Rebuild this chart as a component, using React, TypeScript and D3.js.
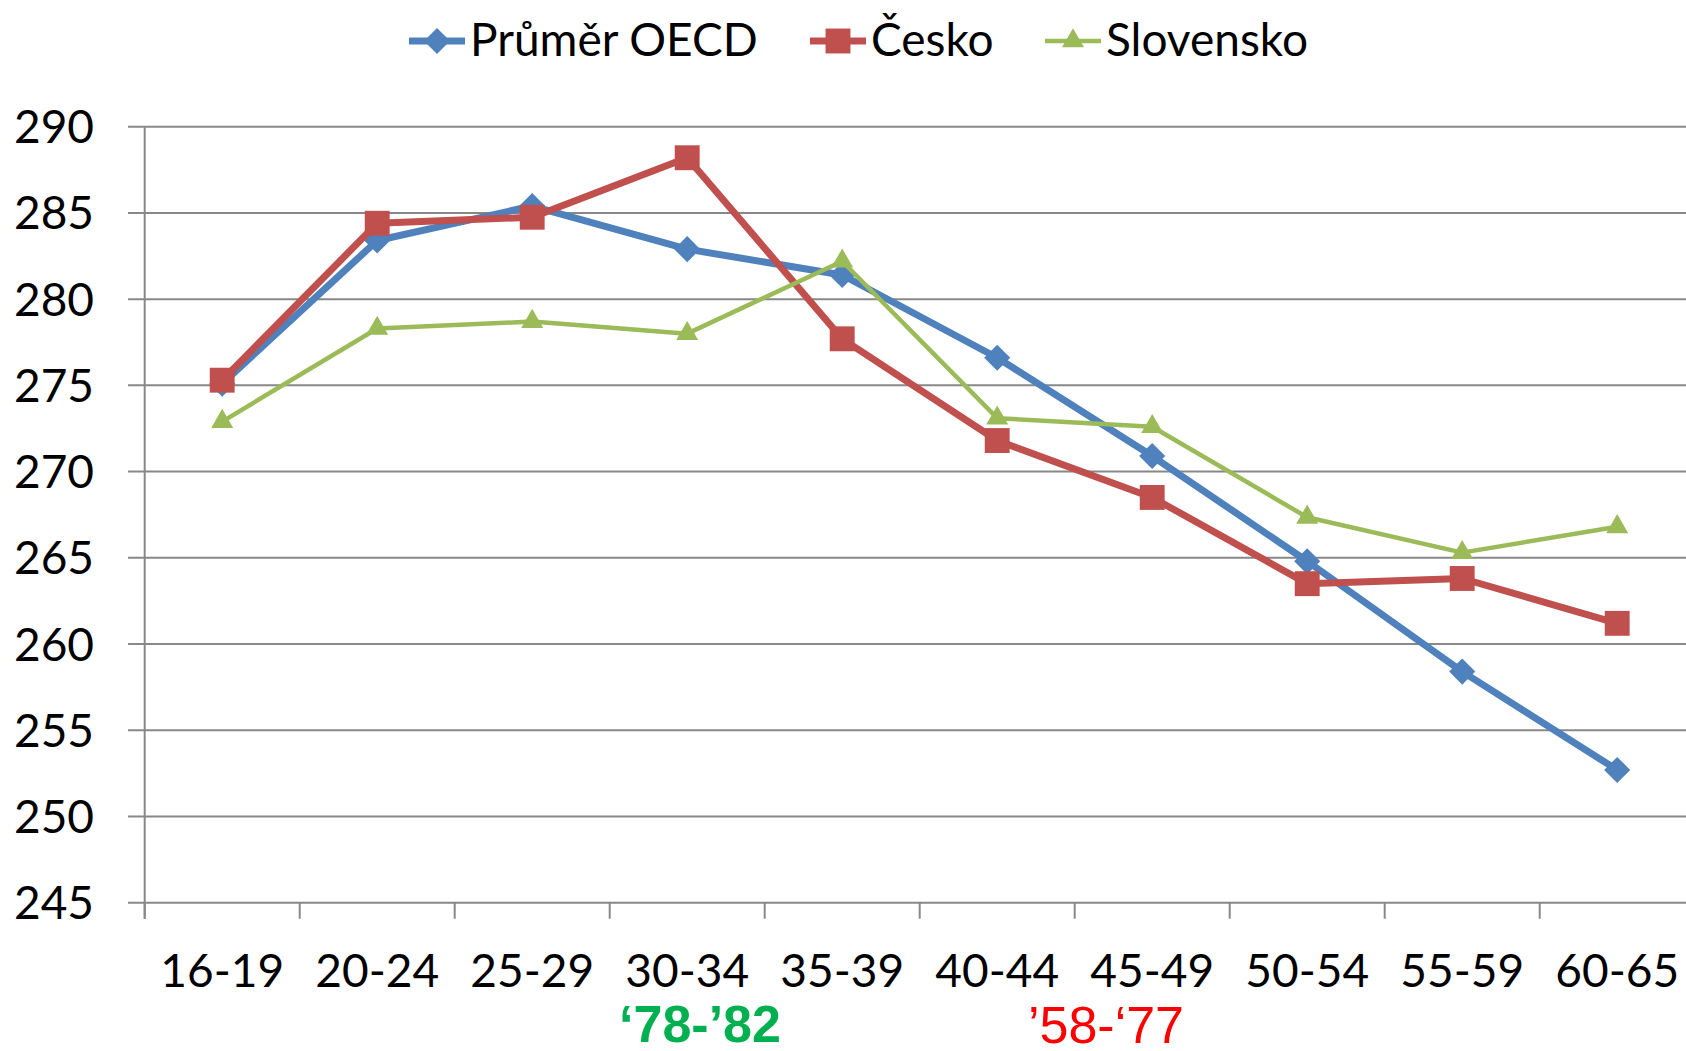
import React from 'react';
import * as d3 from 'd3';

const categories = ['16-19', '20-24', '25-29', '30-34', '35-39', '40-44', '45-49', '50-54', '55-59', '60-65'];
const oecd = [275.1, 283.4, 285.4, 282.9, 281.4, 276.6, 270.9, 264.8, 258.4, 252.7];
const cesko = [275.3, 284.4, 284.75, 288.2, 277.7, 271.8, 268.5, 263.5, 263.8, 261.2];
const slovensko = [272.9, 278.3, 278.7, 278.0, 282.2, 273.1, 272.6, 267.35, 265.3, 266.8];
const yTicks = [245, 250, 255, 260, 265, 270, 275, 280, 285, 290];

const series = [
  { name: 'Průměr OECD', values: oecd, color: '#4F81BD', width: 7, symbol: 'diamond' },
  { name: 'Česko', values: cesko, color: '#C0504D', width: 7, symbol: 'square' },
  { name: 'Slovensko', values: slovensko, color: '#9BBB59', width: 4.5, symbol: 'triangle' },
];

const legendX = [409, 810, 1045];

const W = 1686;
const H = 1051;
const font = 'Lato, "Open Sans", sans-serif';

const x = d3.scaleBand<string>().domain(categories).range([144.7, 1694.7]);
const y = d3.scaleLinear().domain([245, 290]).range([902.7, 126.7]);
const cx = (c: string) => (x(c) as number) + x.bandwidth() / 2;

const symbolPath = (kind: string) => {
  if (kind === 'diamond') return d3.symbol().type(d3.symbolSquare).size(340)() as string;
  if (kind === 'square') return d3.symbol().type(d3.symbolSquare).size(620)() as string;
  return d3.symbol().type(d3.symbolTriangle).size(210)() as string;
};

const Marker = ({ kind, color, px, py }: { kind: string; color: string; px: number; py: number }) => (
  <path
    d={symbolPath(kind)}
    fill={color}
    transform={`translate(${px},${py})${kind === 'diamond' ? ' rotate(45)' : ''}`}
  />
);

export default function App() {
  const line = d3
    .line<number>()
    .x((_, i) => cx(categories[i]))
    .y((d) => y(d));

  const x0 = 144.7;
  const x1 = 1694.7;
  const yBottom = y(245);

  return (
    <svg
      width={W}
      height={H}
      style={{ position: 'absolute', left: 0, top: 0, background: '#fff' }}
    >
      {/* gridlines + y labels */}
      {yTicks.map((t) => (
        <g key={t}>
          <line x1={128} x2={x1} y1={y(t)} y2={y(t)} stroke="#888" strokeWidth={2} />
          <text
            x={94}
            y={y(t) + 16.5}
            textAnchor="end"
            fontFamily={font}
            fontSize={46}
            fill="#000"
          >
            {t}
          </text>
        </g>
      ))}

      {/* axes */}
      <line x1={x0} x2={x0} y1={y(290)} y2={yBottom + 16} stroke="#888" strokeWidth={2} />
      {categories.map((c, i) => (
        <line
          key={'tk' + c}
          x1={x0 + i * x.bandwidth()}
          x2={x0 + i * x.bandwidth()}
          y1={yBottom}
          y2={yBottom + 16}
          stroke="#888"
          strokeWidth={2}
        />
      ))}
      {categories.map((c) => (
        <text
          key={'xl' + c}
          x={cx(c)}
          y={987}
          textAnchor="middle"
          fontFamily={font}
          fontSize={46}
          fill="#000"
        >
          {c}
        </text>
      ))}

      {/* series */}
      {series.map((s) => (
        <g key={s.name}>
          <path
            d={line(s.values) as string}
            fill="none"
            stroke={s.color}
            strokeWidth={s.width}
            strokeLinejoin="round"
          />
          {s.values.map((v, i) => (
            <Marker key={i} kind={s.symbol} color={s.color} px={cx(categories[i])} py={y(v)} />
          ))}
        </g>
      ))}

      {/* legend */}
      {series.map((s, i) => (
        <g key={'lg' + s.name}>
          <line
            x1={legendX[i]}
            x2={legendX[i] + 56}
            y1={41}
            y2={41}
            stroke={s.color}
            strokeWidth={s.width}
          />
          <Marker kind={s.symbol} color={s.color} px={legendX[i] + 28} py={41} />
          <text x={legendX[i] + 61} y={56} fontFamily={font} fontSize={46} fill="#000">
            {s.name}
          </text>
        </g>
      ))}

      {/* annotations */}
      <text
        x={700}
        y={1042}
        textAnchor="middle"
        fontFamily='"Liberation Sans", Arial, sans-serif'
        fontWeight="bold"
        fontSize={52}
        fill="#00B050"
      >
        ‘78-’82
      </text>
      <text
        x={1106}
        y={1043}
        textAnchor="middle"
        fontFamily='"Liberation Sans", Arial, sans-serif'
        fontSize={52}
        fill="#FF0000"
      >
        ’58-‘77
      </text>
    </svg>
  );
}
